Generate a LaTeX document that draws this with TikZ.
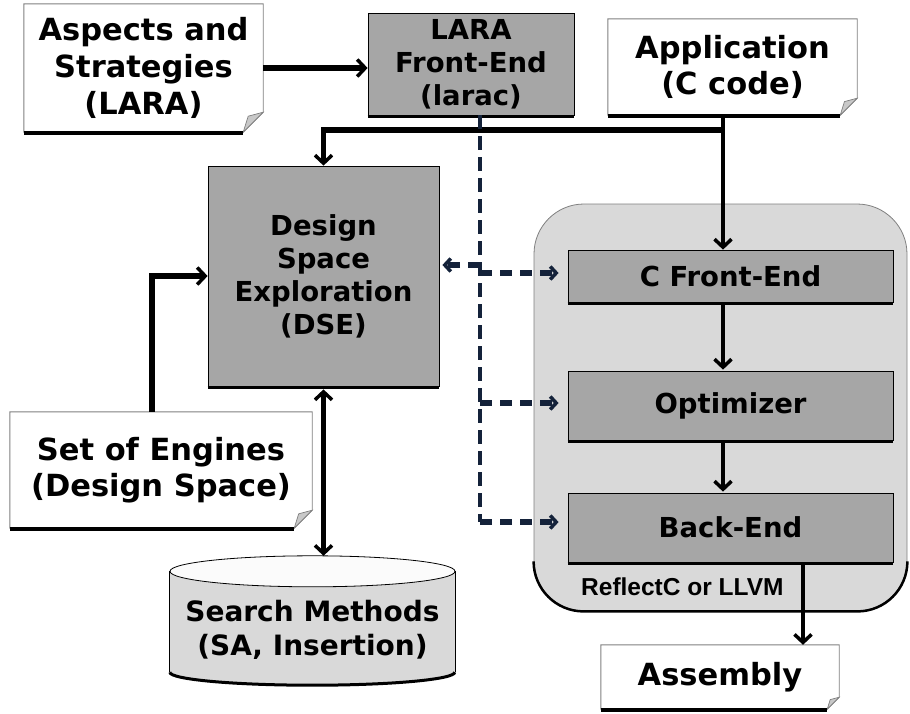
\documentclass[tikz,border=0pt]{standalone}
\usepackage{fontspec}
\setmainfont{DejaVu Sans}
\newfontfamily\libsans{Liberation Sans}
\usetikzlibrary{arrows.meta,backgrounds,calc}
\definecolor{boxgray}{HTML}{A6A6A6}
\definecolor{regiongray}{HTML}{D9D9D9}
\definecolor{dashnavy}{HTML}{14223A}
\definecolor{foldgray}{HTML}{C8C8C8}
\definecolor{edgegray}{HTML}{808080}
\newcommand\NoteFont{\fontsize{30.5}{36.6}\selectfont\bfseries}
\newcommand\BoxFont{\fontsize{27.5}{33}\selectfont\bfseries}
\newcommand\NoteDeco[2]{%
 \begin{scope}[on background layer]
  \filldraw[fill=white,draw=edgegray,line width=0.9pt] (#1.north west) -- (#1.north east) -- ([yshift=#2]#1.south east) -- ([xshift=-#2]#1.south east) -- (#1.south west) -- cycle;
  \filldraw[fill=foldgray,draw=edgegray,line width=0.7pt] ([yshift=#2]#1.south east) -- ([xshift=-#2]#1.south east) -- ($(#1.south east)+(-0.75*#2,0.8*#2)$) -- cycle;
  \draw[line width=3.5pt] ([yshift=-1pt]#1.south west) -- ([xshift=-#2,yshift=-1pt]#1.south east);
 \end{scope}}
\newcommand\BoxShadow[1]{\draw[line width=3pt] ([yshift=-1pt]#1.south west) -- ([yshift=-1pt]#1.south east);}
\begin{document}
\begin{tikzpicture}[x=1pt,y=1pt,
  note/.style={inner sep=0pt,align=center,font=\NoteFont},
  gbox/.style={fill=boxgray,draw=black,line width=0.8pt,inner sep=0pt,align=center,font=\BoxFont},
  bigarr/.style={line width=5.5pt,-{Straight Barb[length=8pt,width=17pt,line width=3.5pt]}},
  medarr/.style={line width=3.5pt,-{Straight Barb[length=8pt,width=17pt,line width=3.5pt]}},
  dblarr/.style={line width=4.5pt,{Straight Barb[length=8pt,width=17pt,line width=3.5pt]}-{Straight Barb[length=8pt,width=17pt,line width=3.5pt]}},
  vdash/.style={draw=dashnavy,line width=4pt,dash pattern=on 14pt off 7pt},
  dasharr/.style={draw=dashnavy,line width=6pt,dash pattern=on 12pt off 8pt,-{Straight Barb[length=6pt,width=13pt,line width=3.5pt]}}]
\useasboundingbox (0,-713) rectangle (910,0);

% notes
\node[note,minimum width=239pt,minimum height=128pt] (asp) at (143.5,-68) {Aspects and\\Strategies\\(LARA)};
\NoteDeco{asp}{20pt}
\node[note,minimum width=249pt,minimum height=96pt] (app) at (732.5,-67) {Application\\(C code)};
\NoteDeco{app}{17pt}
\node[note,minimum width=302pt,minimum height=116pt] (soe) at (161,-470) {Set of Engines\\(Design Space)};
\NoteDeco{soe}{18pt}
\node[note,minimum width=238pt,minimum height=64pt] (asm) at (720,-677) {Assembly};
\NoteDeco{asm}{12pt}

% gray boxes
\node[gbox,minimum width=206pt,minimum height=102pt] (lara) at (471,-64) {LARA\\Front-End\\(larac)};
\BoxShadow{lara}
\node[gbox,minimum width=231pt,minimum height=220pt] (dse) at (323.5,-276) {Design\\Space\\Exploration\\(DSE)};
\BoxShadow{dse}

% compiler region
\node[draw=edgegray,fill=regiongray,line width=0.8pt,rounded corners=50pt,minimum width=373pt,minimum height=407pt,inner sep=0pt] (reg) at (720.5,-407.5) {};
\draw[line width=2.5pt] ([yshift=50pt]reg.south west) arc[start angle=180,end angle=270,radius=50pt] -- ([xshift=-50pt]reg.south east) arc[start angle=270,end angle=360,radius=50pt];
\node[gbox,minimum width=325pt,minimum height=52pt] (cfe) at (730.5,-276) {C Front-End};
\BoxShadow{cfe}
\node[gbox,minimum width=325pt,minimum height=69pt] (opt) at (730.5,-405.5) {Optimizer};
\BoxShadow{opt}
\node[gbox,minimum width=325pt,minimum height=69pt] (be) at (730.5,-527.5) {Back-End};
\BoxShadow{be}
\node[anchor=west,inner sep=0pt,font=\libsans\fontsize{24.5}{29}\selectfont\bfseries] (rl) at (581,-587) {ReflectC or LLVM};

% search methods cylinder
\node[inner sep=0pt,align=center,minimum width=285pt,minimum height=113.5pt,font=\fontsize{28}{33.6}\selectfont\bfseries] (sm) at (312.5,-630) {Search Methods\\(SA, Insertion)};
\begin{scope}[on background layer]
 \fill[regiongray] ([yshift=1.75pt]sm.north west) -- ([yshift=14.75pt]sm.south west) arc[start angle=180,end angle=360,x radius=142.5pt,y radius=13pt] -- ([yshift=1.75pt]sm.north east) -- cycle;
 \draw[line width=0.8pt] ([yshift=1.75pt]sm.north west) -- ([yshift=14.75pt]sm.south west);
 \draw[line width=0.8pt] ([yshift=1.75pt]sm.north east) -- ([yshift=14.75pt]sm.south east);
 \draw[line width=3pt] ([yshift=14.75pt]sm.south west) arc[start angle=180,end angle=360,x radius=142.5pt,y radius=13pt];
 \filldraw[fill=white!97!gray,draw=black,line width=0.8pt] ([yshift=1.75pt]sm.north) ellipse[x radius=142.5pt,y radius=15.5pt];
\end{scope}
\coordinate (smtop) at ([yshift=17.25pt]sm.north);

% solid connectors
\coordinate (vx) at (723,0);
\coordinate (ax) at (803,0);
\coordinate (sx) at (152,0);
\coordinate (jn) at (722,-130);
\draw[bigarr] (asp.east) -- (asp.east -| lara.west);
\draw[bigarr] (jn) -| (dse.north);
\draw[medarr] (app.south -| vx) -- (cfe.north -| vx);
\draw[medarr] (cfe.south -| vx) -- ([yshift=1pt]opt.north -| vx);
\draw[medarr] (opt.south -| vx) -- ([yshift=1pt]be.north -| vx);
\draw[medarr] ([yshift=-2pt]be.south -| ax) -- (asm.north -| ax);
\draw[bigarr] (soe.north -| sx) |- (dse.west);
\draw[dblarr,shorten <=3pt] (dse.south) -- (dse.south |- smtop);

% dashed connectors
\coordinate (d1) at (480,-265);
\coordinate (d2) at (480,-273);
\coordinate (d3) at (480,-403);
\coordinate (d4) at (480,-522);
\draw[vdash] (lara.south -| d1) -- (d4);
\draw[dasharr,shorten >=3pt] (d1) -- (d1 -| dse.east);
\draw[dasharr,shorten >=9pt] (d2) -- (d2 -| cfe.west);
\draw[dasharr,shorten >=9pt] (d3) -- (d3 -| opt.west);
\draw[dasharr,shorten >=9pt] (d4) -- (d4 -| be.west);
\end{tikzpicture}
\end{document}
